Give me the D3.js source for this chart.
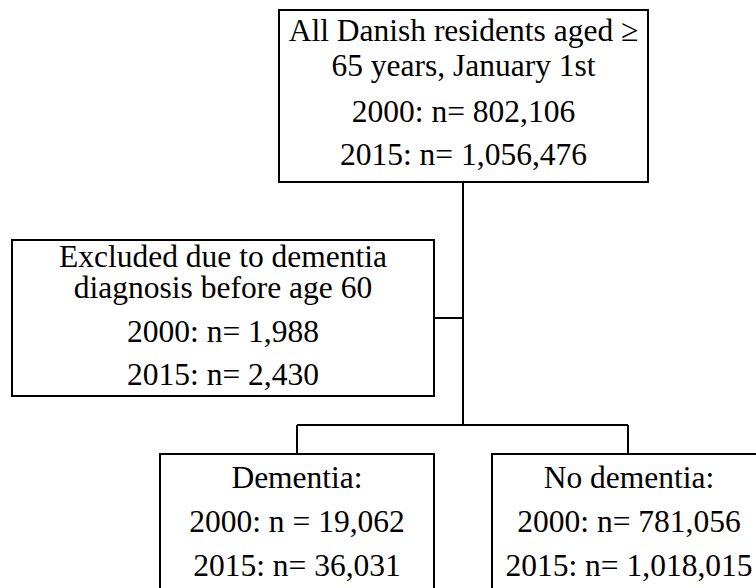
<!DOCTYPE html>
<html>
<head>
<meta charset="utf-8">
<script src="https://cdn.jsdelivr.net/npm/d3@7"></script>
<style>
  body { margin: 0; background: #fff; }
  svg text { font-family: "Liberation Serif", "Times New Roman", serif; fill: #000; }
</style>
</head>
<body>
<div class="flow"></div>
<script>
// box texts
var topLines = ['All Danish residents aged \u2265', '65 years, January 1st'];
var exclLines = ['Excluded due to dementia', 'diagnosis before age 60'];
var demLines = ['Dementia:'];
var noDemLines = ['No dementia:'];
// counts per year
var years = ['2000', '2015'];
var topCounts = ['n= 802,106', 'n= 1,056,476'];
var exclCounts = ['n= 1,988', 'n= 2,430'];
var demCounts = ['n = 19,062', 'n= 36,031'];
var noDemCounts = ['n= 781,056', 'n= 1,018,015'];

var width = 756;
var height = 588;
var fontSize = 31.5;

var svg = d3.select('.flow').append('svg')
  .attr('width', width).attr('height', height);

// layout of the boxes
var boxes = [
  { title: topLines, counts: topCounts, x0: 279, x1: 648, y0: 10, y1: 182, base: [41, 76, 122, 165] },
  { title: exclLines, counts: exclCounts, x0: 12, x1: 434, y0: 240, y1: 396, base: [267, 298, 342, 385] },
  { title: demLines, counts: demCounts, x0: 160, x1: 434, y0: 454, y1: 600, base: [488, 532, 576] },
  { title: noDemLines, counts: noDemCounts, x0: 492, x1: 766, y0: 454, y1: 600, base: [488, 532, 576] }
];

// connectors
var links = [
  [[463, 182], [463, 425]],
  [[434, 318], [463, 318]],
  [[297, 425], [628, 425]],
  [[297, 425], [297, 454]],
  [[628, 425], [628, 454]]
];

var line = d3.line();
svg.selectAll('path.link')
  .data(links)
  .enter().append('path')
  .attr('class', 'link')
  .attr('d', line)
  .attr('fill', 'none')
  .attr('stroke', '#000')
  .attr('stroke-width', 2);

var g = svg.selectAll('g.box')
  .data(boxes)
  .enter().append('g')
  .attr('class', 'box');

g.append('rect')
  .attr('x', function(d) { return d.x0; })
  .attr('y', function(d) { return d.y0; })
  .attr('width', function(d) { return d.x1 - d.x0; })
  .attr('height', function(d) { return d.y1 - d.y0; })
  .attr('fill', '#fff')
  .attr('stroke', '#000')
  .attr('stroke-width', 2);

g.each(function(d) {
  var lines = d.title.concat(years.map(function(y, i) { return y + ': ' + d.counts[i]; }));
  var cx = (d.x0 + d.x1) / 2;
  d3.select(this).selectAll('text')
    .data(lines)
    .enter().append('text')
    .attr('x', cx)
    .attr('y', function(t, i) { return d.base[i]; })
    .attr('text-anchor', 'middle')
    .style('font-size', fontSize + 'px')
    .text(function(t) { return t; });
});
</script>
</body>
</html>
